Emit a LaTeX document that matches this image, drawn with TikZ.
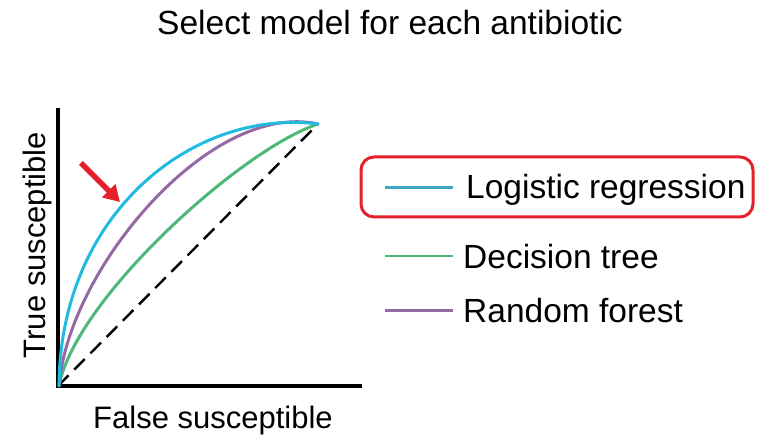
\documentclass[tikz,border=0pt]{standalone}
\usepackage{fontspec}
\setmainfont{Liberation Sans}
\usetikzlibrary{arrows.meta}

\definecolor{lrblue}{HTML}{22BBE0}
\definecolor{lrbluekey}{HTML}{3FA6C6}
\definecolor{dtgreen}{HTML}{4DB879}
\definecolor{rfpurple}{HTML}{9569A3}
\definecolor{markred}{HTML}{E5202A}

\tikzset{
  axisline/.style={line width=4pt, line cap=rect},
  roccurve/.style={line width=3pt, line cap=round, line join=round},
  keyline/.style={line width=2.6pt},
  chance/.style={line width=2.4pt, dash pattern=on 15pt off 8pt},
  bigtext/.style={font=\fontsize{33.5}{40}\selectfont, inner sep=0pt},
  axtext/.style={font=\fontsize{31}{37}\selectfont, inner sep=0pt},
}

\begin{document}
\begin{tikzpicture}[x=1pt, y=-1pt]
  \useasboundingbox (0,0) rectangle (767,435);

  % title
  \node[bigtext, anchor=base] (title) at (390,35) {Select model for each antibiotic};

  % axes
  \coordinate (origin) at (58,386);
  \coordinate (ytop) at (58,110);
  \coordinate (xend) at (360,386);
  \coordinate (start) at (59,386);
  \coordinate (corner) at (318,124);
  \draw[axisline] (ytop) -- (origin) -- (xend);

  % axis labels
  \node[axtext, anchor=base] (xlabel) at (213,428) {False susceptible};
  \node[axtext, anchor=base, rotate=90] (ylabel) at (45,245) {True susceptible};

  % chance diagonal
  \draw[chance] (origin) -- (corner);

  % ROC curves
  \draw[roccurve, dtgreen]  (start) .. controls (75,300) and (240,150) .. (corner);
  \draw[roccurve, rfpurple] (start) .. controls (68,270) and (210,100) .. (corner);
  \draw[roccurve, lrblue]   (start) .. controls (60,212) and (195,108) .. (corner);

  % pointer to the best curve
  \coordinate (ptail) at (81,163);
  \coordinate (phead) at (120,202);
  \draw[markred, line width=5.5pt, -{Triangle[length=16pt, width=18pt]}] (ptail) -- (phead);

  % legend
  \draw[markred, line width=3pt, rounded corners=13pt] (361,157) rectangle (753,217);
  \coordinate (k1a) at (385,187.3); \coordinate (k1b) at (453,187.3);
  \coordinate (k2a) at (385,256);   \coordinate (k2b) at (453,256);
  \coordinate (k3a) at (385,310.7); \coordinate (k3b) at (453,310.7);
  \draw[keyline, lrbluekey] (k1a) -- (k1b);
  \draw[keyline, dtgreen] (k2a) -- (k2b);
  \draw[keyline, rfpurple] (k3a) -- (k3b);
  \node[bigtext, anchor=base west] (lr) at (466,199) {Logistic regression};
  \node[bigtext, anchor=base west] (dt) at (463,268.3) {Decision tree};
  \node[bigtext, anchor=base west] (rf) at (463,322.3) {Random forest};
\end{tikzpicture}
\end{document}
